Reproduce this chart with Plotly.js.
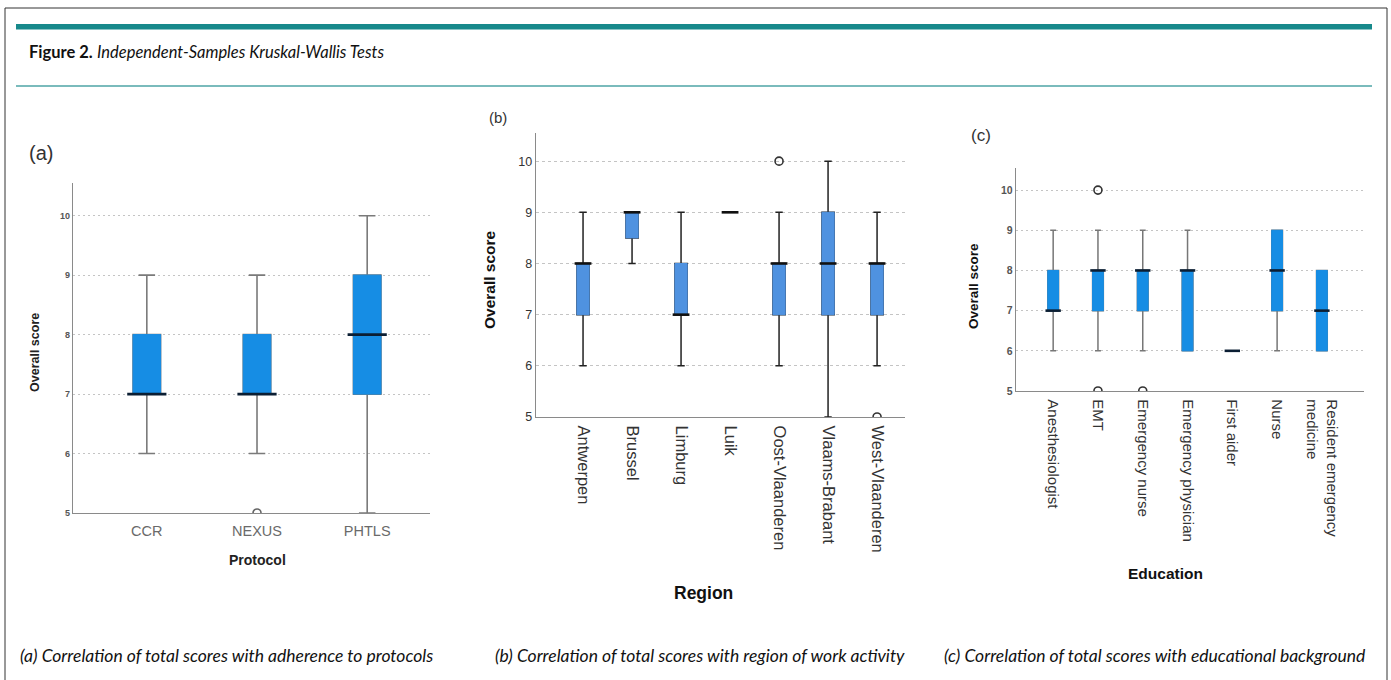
<!DOCTYPE html>
<html>
<head>
<meta charset="utf-8">
<script src="https://cdn.plot.ly/plotly-3.0.1.min.js"></script>
<style>
  html, body { margin: 0; padding: 0; background: #ffffff; }
  #chart { width: 1391px; height: 680px; }
</style>
</head>
<body>
<div id="chart"></div>
<script>
// ---------------- DATA ----------------
// (a) Protocol
const protocols      = ['CCR', 'NEXUS', 'PHTLS'];
const protoLowFence  = [6, 6, 5];
const protoQ1        = [7, 7, 7];
const protoMedian    = [7, 7, 8];
const protoQ3        = [8, 8, 9];
const protoUpFence   = [9, 9, 10];
const protoOutX      = ['NEXUS'];
const protoOutY      = [5];

// (b) Region
const regions        = ['Antwerpen', 'Brussel', 'Limburg', 'Luik', 'Oost-Vlaanderen', 'Vlaams-Brabant', 'West-Vlaanderen'];
const regionLowFence = [6, 8,   6, 9, 6, 5, 6];
const regionQ1       = [7, 8.5, 7, 9, 7, 7, 7];
const regionMedian   = [8, 9,   7, 9, 8, 8, 8];
const regionQ3       = [8, 9,   8, 9, 8, 9, 8];
const regionUpFence  = [9, 9,   9, 9, 9, 10, 9];
const regionOutX     = ['Oost-Vlaanderen', 'West-Vlaanderen'];
const regionOutY     = [10, 5];

// (c) Education
const educations     = ['Anesthesiologist', 'EMT', 'Emergency nurse', 'Emergency physician', 'First aider', 'Nurse', 'Resident emergency<br>medicine'];
const eduLowFence    = [6, 6, 6, 6, 6, 6, 6];
const eduQ1          = [7, 7, 7, 6, 6, 7, 6];
const eduMedian      = [7, 8, 8, 8, 6, 8, 7];
const eduQ3          = [8, 8, 8, 8, 6, 9, 8];
const eduUpFence     = [9, 9, 9, 9, 6, 9, 8];
const eduOutX        = ['EMT', 'EMT', 'Emergency nurse'];
const eduOutY        = [10, 5, 5];

const scoreTicks     = [5, 6, 7, 8, 9, 10];

// ---------------- HELPERS ----------------
const W = 1391, H = 680;
const px = x => x / W;
const py = y => 1 - y / H;
const SANS = 'Liberation Sans, Arial, sans-serif';
const HUM  = 'Lato, Open Sans, sans-serif';

function boxSet(cats, lf, q1, med, q3, uf, opts, xa, ya) {
  const traces = [];
  // whiskers (box outline hidden under body)
  traces.push({
    type: 'box', x: cats, lowerfence: lf, q1: q1, median: med, q3: q3, upperfence: uf,
    xaxis: xa, yaxis: ya, boxpoints: false, width: opts.width, whiskerwidth: opts.capw,
    line: { color: opts.whisker, width: opts.wlw }, fillcolor: 'rgba(0,0,0,0)',
    hoverinfo: 'skip', showlegend: false
  });
  // body
  traces.push({
    type: 'box', x: cats, lowerfence: q1, q1: q1, median: med, q3: q3, upperfence: q3,
    xaxis: xa, yaxis: ya, boxpoints: false, width: opts.width, whiskerwidth: 0,
    line: { color: opts.fill, width: 1 }, fillcolor: opts.fill,
    hoverinfo: 'skip', showlegend: false
  });
  // median
  traces.push({
    type: 'scatter', mode: 'markers', x: cats, y: med, xaxis: xa, yaxis: ya,
    marker: { symbol: 'line-ew', size: opts.medSize, line: { color: opts.medColor, width: opts.medW } },
    hoverinfo: 'skip', showlegend: false
  });
  return traces;
}

function outliers(xs, ys, color, xa, ya) {
  return {
    type: 'scatter', mode: 'markers', x: xs, y: ys, xaxis: xa, yaxis: ya,
    marker: { symbol: 'circle-open', size: 8, color: color, line: { color: color, width: 1.6 } },
    hoverinfo: 'skip', showlegend: false
  };
}

const data = [].concat(
  boxSet(protocols, protoLowFence, protoQ1, protoMedian, protoQ3, protoUpFence,
    { width: 0.25, capw: 0.6, whisker: '#7a7a7a', wlw: 1.6, fill: '#168de4', medSize: 28, medColor: '#0b1e33', medW: 2.6 }, 'x', 'y'),
  [outliers(protoOutX, protoOutY, '#666', 'x', 'y')],
  boxSet(regions, regionLowFence, regionQ1, regionMedian, regionQ3, regionUpFence,
    { width: 0.25, capw: 0.6, whisker: '#222', wlw: 1.5, fill: '#4f92e0', medSize: 12, medColor: '#111', medW: 2.6 }, 'x2', 'y2'),
  [outliers(regionOutX, regionOutY, '#333', 'x2', 'y2')],
  boxSet(educations, eduLowFence, eduQ1, eduMedian, eduQ3, eduUpFence,
    { width: 0.24, capw: 0.55, whisker: '#777', wlw: 1.5, fill: '#168de4', medSize: 11, medColor: '#0b1e33', medW: 2.6 }, 'x3', 'y3'),
  [outliers(eduOutX, eduOutY, '#333', 'x3', 'y3')]
);

function xax(domain, range, cats, font, angle, anchor) {
  return {
    domain: domain, range: range, type: 'category', categoryorder: 'array', categoryarray: cats,
    showline: true, linecolor: '#8a8a8a', linewidth: 1.3, showgrid: false, zeroline: false,
    ticks: '', tickangle: angle, tickfont: font, anchor: anchor, fixedrange: true,
    ticklabelstandoff: 4
  };
}
function yax(domain, font, dash, anchor) {
  return {
    domain: domain, range: [5, 10.55], tickmode: 'array', tickvals: scoreTicks,
    showline: true, linecolor: '#8a8a8a', linewidth: 1.3, zeroline: false,
    showgrid: true, gridcolor: '#c4c4c4', gridwidth: 1, griddash: dash,
    ticks: '', tickfont: font, anchor: anchor, fixedrange: true
  };
}

const layout = {
  width: W, height: H, margin: { l: 0, r: 0, t: 0, b: 0 },
  paper_bgcolor: '#ffffff', plot_bgcolor: 'rgba(0,0,0,0)',
  showlegend: false, boxmode: 'overlay',
  xaxis:  xax([px(73), px(430)], [-0.67, 2.57], protocols,
    { family: SANS, size: 14.5, color: '#6a6a6a' }, 0, 'y'),
  yaxis:  yax([py(513), py(183)], { family: SANS, size: 9, color: '#555', weight: 'bold' }, '2px,3px', 'x'),
  xaxis2: xax([px(536), px(905)], [-0.96, 6.57], regions,
    { family: SANS, size: 16.5, color: '#333' }, 90, 'y2'),
  yaxis2: yax([py(417), py(133)], { family: SANS, size: 12.5, color: '#333' }, '3px,3px', 'x2'),
  xaxis3: xax([px(1016), px(1364)], [-0.83, 6.94], educations,
    { family: SANS, size: 15, color: '#333' }, 90, 'y3'),
  yaxis3: yax([py(391), py(168)], { family: SANS, size: 10.5, color: '#555', weight: 'bold' }, '2px,3px', 'x3'),
  shapes: [
    { type: 'rect', xref: 'paper', yref: 'paper', x0: px(5), x1: px(1387), y0: py(8), y1: py(720),
      line: { color: '#333', width: 1 }, fillcolor: 'rgba(0,0,0,0)' },
    { type: 'rect', xref: 'paper', yref: 'paper', x0: px(16), x1: px(1372), y0: py(24), y1: py(29.5),
      line: { width: 0 }, fillcolor: '#17898b' },
    { type: 'line', xref: 'paper', yref: 'paper', x0: px(16), x1: px(1372), y0: py(86), y1: py(86),
      line: { color: '#4ea4a6', width: 1.5 } }
  ],
  annotations: [
    { xref: 'paper', yref: 'paper', x: px(27), y: py(52), xanchor: 'left', yanchor: 'middle', showarrow: false,
      text: '<b>Figure 2.</b> <i>Independent-Samples Kruskal-Wallis Tests</i>',
      font: { family: HUM, size: 16.5, color: '#111' } },
    // panel letters
    { xref: 'paper', yref: 'paper', x: px(27), y: py(153), xanchor: 'left', yanchor: 'middle', showarrow: false,
      text: '(a)', font: { family: SANS, size: 20, color: '#333' } },
    { xref: 'paper', yref: 'paper', x: px(487), y: py(117), xanchor: 'left', yanchor: 'middle', showarrow: false,
      text: '(b)', font: { family: SANS, size: 15, color: '#333' } },
    { xref: 'paper', yref: 'paper', x: px(969), y: py(136), xanchor: 'left', yanchor: 'middle', showarrow: false,
      text: '(c)', font: { family: SANS, size: 17, color: '#333' } },
    // axis titles
    { xref: 'paper', yref: 'paper', x: px(35), y: py(353), textangle: -90, xanchor: 'center', yanchor: 'middle', showarrow: false,
      text: '<b>Overall score</b>', font: { family: SANS, size: 12.5, color: '#222' } },
    { xref: 'paper', yref: 'paper', x: px(257), y: py(560), xanchor: 'center', yanchor: 'middle', showarrow: false,
      text: '<b>Protocol</b>', font: { family: SANS, size: 14, color: '#222' } },
    { xref: 'paper', yref: 'paper', x: px(489), y: py(280), textangle: -90, xanchor: 'center', yanchor: 'middle', showarrow: false,
      text: '<b>Overall score</b>', font: { family: SANS, size: 15.5, color: '#111' } },
    { xref: 'paper', yref: 'paper', x: px(703), y: py(593), xanchor: 'center', yanchor: 'middle', showarrow: false,
      text: '<b>Region</b>', font: { family: SANS, size: 17.5, color: '#111' } },
    { xref: 'paper', yref: 'paper', x: px(973), y: py(286), textangle: -90, xanchor: 'center', yanchor: 'middle', showarrow: false,
      text: '<b>Overall score</b>', font: { family: SANS, size: 13.5, color: '#111' } },
    { xref: 'paper', yref: 'paper', x: px(1165), y: py(573), xanchor: 'center', yanchor: 'middle', showarrow: false,
      text: '<b>Education</b>', font: { family: SANS, size: 15.5, color: '#111' } },
    // captions
    { xref: 'paper', yref: 'paper', x: px(18), y: py(655), xanchor: 'left', yanchor: 'middle', showarrow: false,
      text: '<i>(a) Correlation of total scores with adherence to protocols</i>', font: { family: HUM, size: 17.5, color: '#111' } },
    { xref: 'paper', yref: 'paper', x: px(493), y: py(655), xanchor: 'left', yanchor: 'middle', showarrow: false,
      text: '<i>(b) Correlation of total scores with region of work activity</i>', font: { family: HUM, size: 17.5, color: '#111' } },
    { xref: 'paper', yref: 'paper', x: px(1368), y: py(655), xanchor: 'right', yanchor: 'middle', showarrow: false,
      text: '<i>(c) Correlation of total scores with educational background</i>', font: { family: HUM, size: 17.5, color: '#111' } }
  ]
};

Plotly.newPlot('chart', data, layout, { displayModeBar: false, staticPlot: true });
</script>
</body>
</html>
